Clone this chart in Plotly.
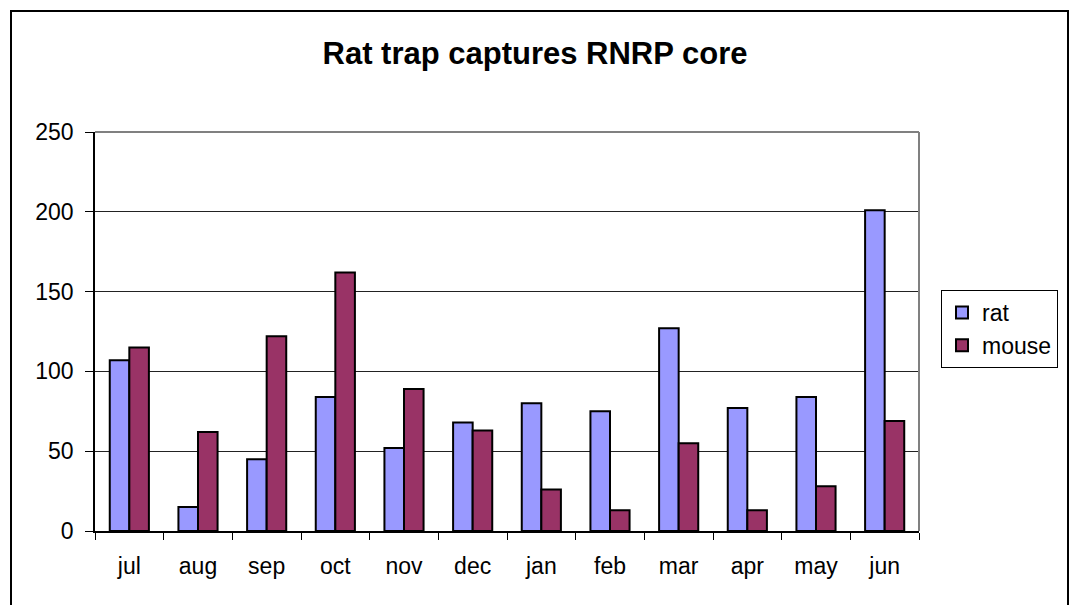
import plotly.graph_objects as go

months = ["jul", "aug", "sep", "oct", "nov", "dec", "jan", "feb", "mar", "apr", "may", "jun"]
rat = [107, 15, 45, 84, 52, 68, 80, 75, 127, 77, 84, 201]
mouse = [115, 62, 122, 162, 89, 63, 26, 13, 55, 13, 28, 69]
y_ticks = [0, 50, 100, 150, 200, 250]

FONT = "Liberation Sans, Arial, sans-serif"

fig = go.Figure()
fig.add_trace(go.Bar(x=months, y=rat, name="rat",
                     marker=dict(color="#9999FF", line=dict(color="black", width=2))))
fig.add_trace(go.Bar(x=months, y=mouse, name="mouse",
                     marker=dict(color="#993366", line=dict(color="black", width=2))))

L, R, T, B = 95, 151, 132, 74
W, H = 1070, 605
pw, ph = W - L - R, H - T - B

def px_x(x):
    return (x - L) / pw

def px_y(y):
    return (H - B - y) / ph

fig.update_layout(
    width=W, height=H,
    margin=dict(l=L, r=R, t=T, b=B, pad=0),
    paper_bgcolor="white", plot_bgcolor="white",
    font=dict(family=FONT, size=23, color="black"),
    title=dict(text="<b>Rat trap captures RNRP core</b>", x=0.5, xanchor="center",
               y=1 - 53 / H, yanchor="middle", font=dict(size=31, family=FONT)),
    barmode="group", bargap=0.43, bargroupgap=0,
    showlegend=True,
    legend=dict(x=px_x(941), y=px_y(290), xanchor="left", yanchor="top",
                bordercolor="black", borderwidth=1, bgcolor="white",
                font=dict(size=23, family=FONT), tracegroupgap=0,
                itemsizing="constant"),
    xaxis=dict(showline=True, linecolor="black", linewidth=1.5, ticks="outside",
               tickson="boundaries", ticklen=7, tickcolor="black", showgrid=False,
               tickfont=dict(size=23), ticklabelstandoff=14),
    yaxis=dict(range=[0, 250], tickvals=y_ticks, showline=True, linecolor="black",
               linewidth=1.5, ticks="outside", ticklen=8, tickcolor="black",
               showgrid=True, gridcolor="#222222", gridwidth=1, zeroline=False,
               tickfont=dict(size=23), ticklabelstandoff=7),
    shapes=[
        dict(type="line", xref="paper", yref="paper", x0=0, x1=1, y0=1, y1=1,
             line=dict(color="#808080", width=2)),
        dict(type="line", xref="paper", yref="paper", x0=1, x1=1, y0=0, y1=1,
             line=dict(color="#808080", width=2)),
        dict(type="rect", xref="paper", yref="paper",
             x0=px_x(11), x1=px_x(1068), y0=px_y(615), y1=px_y(11),
             line=dict(color="black", width=2), fillcolor="rgba(0,0,0,0)", layer="below"),
    ],
)

fig.write_html("out.html", config={"displayModeBar": False},
               post_script="document.body.style.margin='0';document.body.style.overflow='hidden';")
